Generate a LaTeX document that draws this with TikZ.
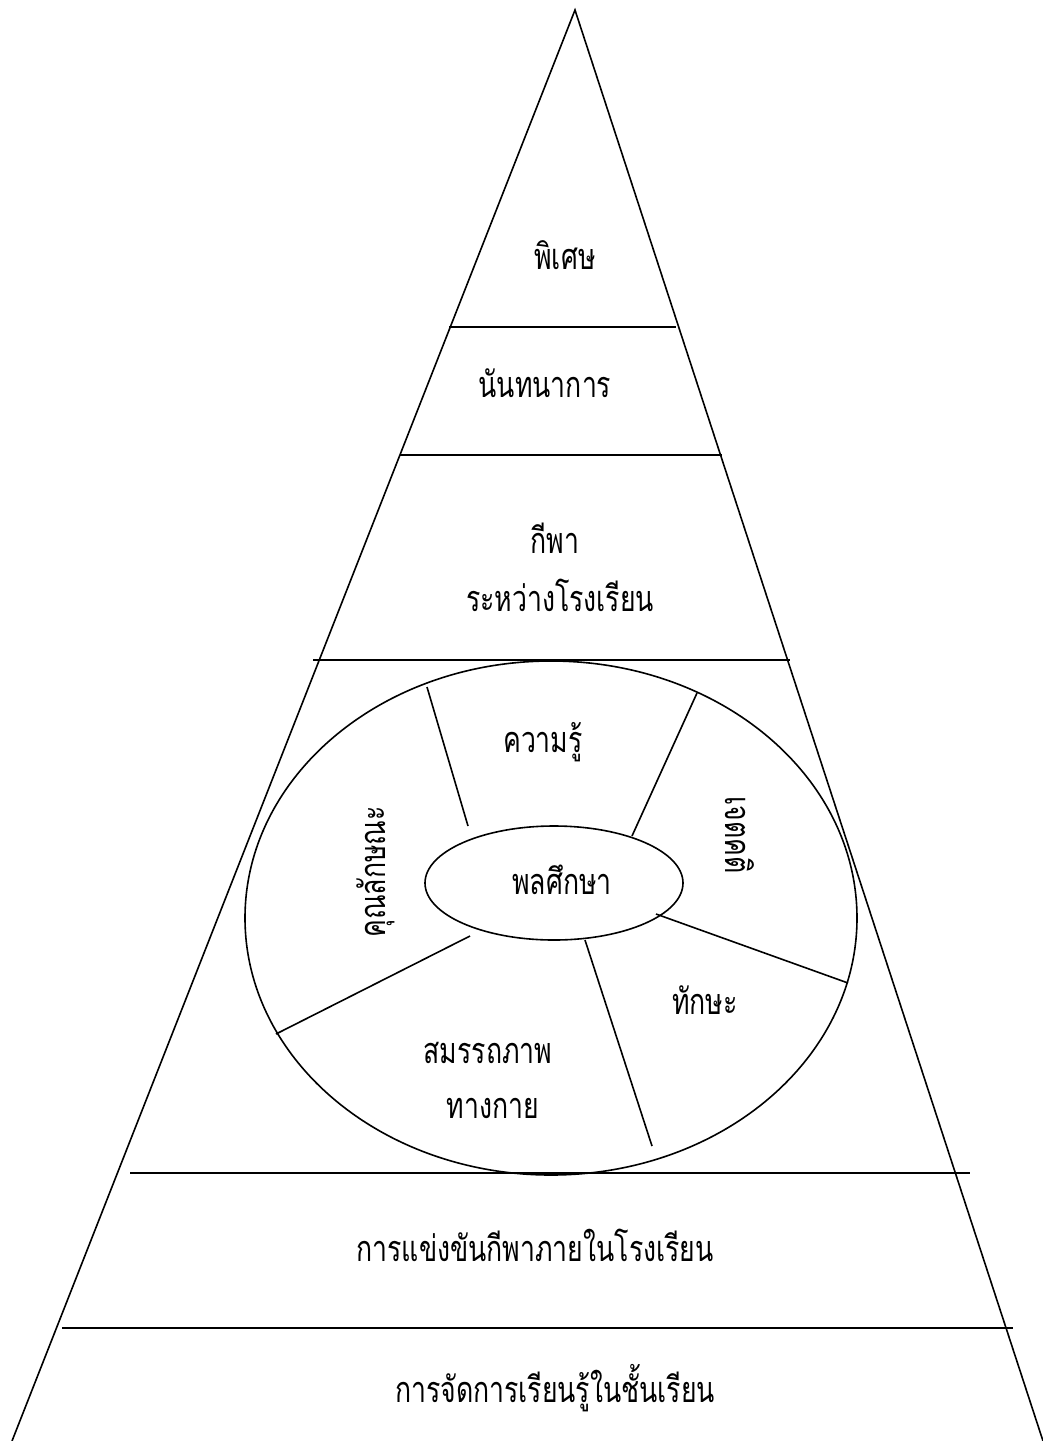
\documentclass[tikz,border=0pt]{standalone}
\usepackage{fontspec}
\newfontfamily\thaifont[Script=Thai,FakeStretch=0.74]{Loma}
\begin{document}
\begin{tikzpicture}[x=0.5pt,y=-0.5pt,
  edge/.style={line width=0.8pt},
  band/.style={line width=1.35pt},
  spoke/.style={line width=0.8pt},
  lbl/.style={font=\thaifont\fontsize{18}{21}\selectfont, inner sep=0pt}]
\useasboundingbox (0,0) rectangle (1043,1441);
% triangle
\coordinate (apex) at (575,10);
\coordinate (bl) at (12,1441);
\coordinate (br) at (1043,1441);
\draw[edge] (bl) -- (apex) -- (br);
% band lines
\draw[band] (449,327) -- (676,327);
\draw[band] (400,455) -- (722,455);
\draw[band] (313,660) -- (790,660);
\draw[band] (130,1173) -- (970,1173);
\draw[band] (62,1328) -- (1013,1328);
% ellipses
\draw[edge] (551,918) ellipse [x radius=306, y radius=257];
\draw[edge] (554,883) ellipse [x radius=129, y radius=57];
% spokes
\draw[spoke] (427,687) -- (468,826);
\draw[spoke] (697,693) -- (632,836);
\draw[spoke] (656,914) -- (848,983);
\draw[spoke] (585,940) -- (652,1146);
\draw[spoke] (470,936) -- (276,1034);
% labels
\node[lbl] (t1) at (565,255) {พิเศษ};
\node[lbl] (t2) at (545,383) {นันทนาการ};
\node[lbl] (t3) at (555,538) {กีพา};
\node[lbl] (t4) at (560,595) {ระหว่างโรงเรียน};
\node[lbl] (t5) at (543,742) {ความรู้};
\node[lbl] (t6) at (562,880) {พลศึกษา};
\node[lbl,rotate=90] (t7) at (376,872) {คุณลักษณะ};
\node[lbl,rotate=-90] (t8) at (740,835) {เจตคติ};
\node[lbl] (t9) at (705,1000) {ทักษะ};
\node[lbl] (t10) at (488,1053) {สมรรถภาพ};
\node[lbl] (t11) at (493,1108) {ทางกาย};
\node[lbl] (t12) at (535,1245) {การแข่งขันกีพาภายในโรงเรียน};
\node[lbl] (t13) at (555,1388) {การจัดการเรียนรู้ในชั้นเรียน};
\end{tikzpicture}
\end{document}
